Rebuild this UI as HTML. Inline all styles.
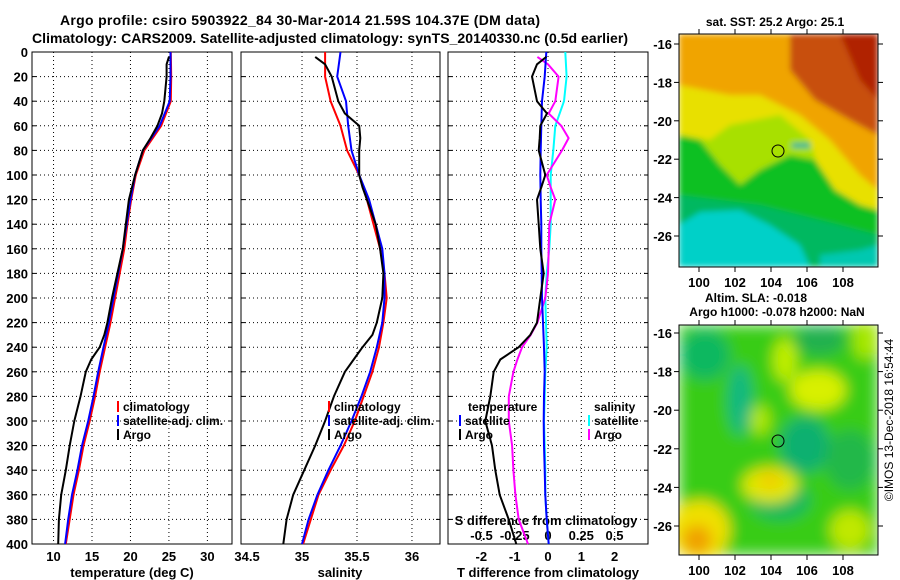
<!DOCTYPE html>
<html><head><meta charset="utf-8"><style>
body{margin:0;background:#fff;}
svg{display:block;font-family:"Liberation Sans",Arial,sans-serif;font-weight:bold;}
</style></head><body>
<svg id="c" width="900" height="580" viewBox="0 0 900 580">
<defs>
<filter id="bl" x="-5%" y="-5%" width="110%" height="110%"><feGaussianBlur stdDeviation="3"/></filter>
<filter id="bl2" x="-5%" y="-5%" width="110%" height="110%"><feGaussianBlur stdDeviation="7"/></filter>
<clipPath id="cm1"><rect x="679" y="34" width="199" height="233"/></clipPath>
<clipPath id="cm2"><rect x="679" y="325" width="199" height="230"/></clipPath>
</defs>
<text x="60" y="25" font-size="14" textLength="480">Argo profile: csiro 5903922_84 30-Mar-2014 21.59S 104.37E (DM data)</text>
<text x="32" y="43" font-size="14" textLength="596">Climatology: CARS2009. Satellite-adjusted climatology: synTS_20140330.nc (0.5d earlier)</text>

<g>
<g clip-path="url(#cm1)" filter="url(#bl)">
<rect x="679" y="34" width="199" height="233" fill="#f0a400"/>
<polygon points="790,34 878,34 878,135 850,120 815,100 790,70" fill="#c85010"/>
<polygon points="840,34 878,34 878,100 860,80" fill="#b02000"/>
<polygon points="679,85 730,95 760,95 800,115 830,140 860,175 878,190 878,267 679,267" fill="#e8e000"/>
<polygon points="679,135 710,140 730,125 780,115 810,140 820,175 790,200 730,195 679,180" fill="#a8e000"/>
<polygon points="679,135 700,140 720,165 740,185 760,170 790,155 815,160 835,190 860,205 878,210 878,267 679,267" fill="#10c020"/>
<polygon points="679,195 720,200 760,205 800,215 840,225 878,235 878,267 679,267" fill="#00b860"/>
<polygon points="679,225 700,212 740,210 770,225 800,245 810,267 679,267" fill="#00d0c8"/>
<polygon points="820,255 860,250 878,245 878,267 820,267" fill="#00c8b0"/>
<rect x="792" y="143" width="18" height="5" fill="#00b0a0"/>
</g>
<rect x="679" y="34" width="199" height="233" fill="none" stroke="#000"/>
<circle cx="778" cy="151" r="6" fill="none" stroke="#000"/>
<text x="775" y="26" font-size="12" text-anchor="middle">sat. SST: 25.2 Argo: 25.1</text>
</g>

<g>
<g clip-path="url(#cm2)" filter="url(#bl2)">
<rect x="679" y="325" width="199" height="230" fill="#38cc18"/>
<ellipse cx="705" cy="355" rx="25" ry="25" fill="#10b860"/>
<ellipse cx="740" cy="400" rx="12" ry="35" fill="#10b880"/>
<ellipse cx="805" cy="445" rx="25" ry="28" fill="#10b070"/>
<ellipse cx="780" cy="500" rx="30" ry="20" fill="#10b860"/>
<ellipse cx="820" cy="340" rx="25" ry="15" fill="#20b050"/>
<ellipse cx="850" cy="460" rx="25" ry="30" fill="#20b848"/>
<ellipse cx="785" cy="360" rx="12" ry="22" fill="#c0ee00"/>
<ellipse cx="818" cy="390" rx="28" ry="20" fill="#d8f000"/>
<ellipse cx="770" cy="485" rx="28" ry="18" fill="#e0e800"/>
<ellipse cx="770" cy="480" rx="12" ry="10" fill="#f0d000"/>
<ellipse cx="760" cy="420" rx="10" ry="15" fill="#b0e800"/>
<ellipse cx="700" cy="530" rx="30" ry="30" fill="#f0e000"/>
<ellipse cx="697" cy="540" rx="15" ry="15" fill="#f0a000"/>
<ellipse cx="850" cy="530" rx="20" ry="20" fill="#c0e800"/>
<ellipse cx="865" cy="340" rx="12" ry="20" fill="#a8e800"/>
</g>
<rect x="679" y="325" width="199" height="230" fill="none" stroke="#000"/>
<circle cx="778" cy="441" r="6" fill="none" stroke="#000"/>
<text x="756" y="302" font-size="12" text-anchor="middle">Altim. SLA: -0.018</text>
<text x="777" y="316" font-size="12" text-anchor="middle">Argo h1000: -0.078 h2000: NaN</text>
</g>
<text transform="translate(893,420) rotate(-90)" font-size="12" font-weight="normal" text-anchor="middle">©IMOS 13-Dec-2018 16:54:44</text>
<g id="dyn"></g>
</svg>
<script>
const depths = [0,20,40,60,80,100,120,140,160,180,200,220,240,260,280,300,320,340,360,380,400];
const tempClim = [25.25,25.3,25.25,24.0,21.8,20.7,20.1,19.6,19.2,18.6,18.0,17.4,16.7,16.0,15.4,14.7,13.9,13.3,12.6,12.1,11.6];
const tempSat  = [25.2,25.2,25.1,23.8,21.6,20.6,20.0,19.5,19.0,18.4,17.8,17.2,16.5,15.8,15.2,14.5,13.7,13.1,12.4,11.9,11.5];
const argoDepths = [4,10,20,40,50,60,70,80,100,110,120,140,160,180,200,220,230,240,250,260,280,300,320,340,360,380,400];
const tempArgo = [25.0,24.7,24.7,24.4,24.1,23.5,22.6,21.6,20.6,20.2,19.8,19.4,19.0,18.3,17.6,17.0,16.6,16.0,14.9,14.2,13.5,12.7,12.1,11.6,11.0,10.7,10.6];
const salClim = [35.21,35.21,35.26,35.35,35.41,35.52,35.59,35.65,35.71,35.75,35.77,35.74,35.70,35.64,35.56,35.48,35.38,35.26,35.15,35.08,35.01];
const salSat  = [35.35,35.32,35.40,35.42,35.45,35.52,35.61,35.67,35.73,35.75,35.75,35.73,35.68,35.62,35.54,35.45,35.35,35.24,35.14,35.06,35.0];
const salArgo = [35.12,35.21,35.27,35.33,35.39,35.52,35.53,35.52,35.52,35.55,35.59,35.67,35.71,35.74,35.73,35.68,35.64,35.55,35.47,35.39,35.29,35.21,35.12,35.02,34.92,34.86,34.83];
const tDiffSat = [-0.05,-0.1,-0.18,-0.2,-0.22,-0.23,-0.22,-0.2,-0.2,-0.19,-0.18,-0.15,-0.12,-0.1,-0.12,-0.13,-0.12,-0.1,-0.08,-0.04,0.02];
const tDiffArgo = [-0.05,-0.33,-0.48,-0.33,-0.03,-0.23,-0.25,-0.28,-0.08,-0.2,-0.33,-0.28,-0.23,-0.13,-0.23,-0.33,-0.53,-0.88,-1.43,-1.63,-1.73,-1.88,-1.68,-1.58,-1.45,-1.18,-0.95];
const sDiffSat = [0.13,0.14,0.12,0.055,0.04,0.02,0.02,0.02,0.01,-0.01,-0.02,-0.015,-0.01,-0.02,-0.025,-0.03,-0.025,-0.02,-0.02,-0.01,0.005];
const sDiffArgo = [-0.08,0.0,0.08,0.055,0.005,0.1,0.155,0.105,-0.01,0.02,0.055,0.01,0.005,0.0,-0.02,-0.08,-0.13,-0.195,-0.23,-0.26,-0.295,-0.295,-0.27,-0.26,-0.245,-0.22,-0.15];
const depthTicks = [0,20,40,60,80,100,120,140,160,180,200,220,240,260,280,300,320,340,360,380,400];
const tempTicks = [10,15,20,25,30];
const salTicks = ["34.5","35","35.5","36"];
const tdTicks = [-2,-1,0,1,2];
const sdTicks = ["-0.5","-0.25","0","0.25","0.5"];
const latTicks = [-16,-18,-20,-22,-24,-26];
const lonTicks = [100,102,104,106,108];

const NS='http://www.w3.org/2000/svg';
const g=document.getElementById('dyn');
function mk(tag,attrs,parent){const e=document.createElementNS(NS,tag);for(const k in attrs)e.setAttribute(k,attrs[k]);(parent||g).appendChild(e);return e;}
const Y0=52,Y1=544;
const yD=d=>Y0+(d/400)*(Y1-Y0);
const panels=[
 {x0:32,x1:232,lo:7.2,hi:33.2,name:'temperature-panel'},
 {x0:241,x1:440,lo:34.445,hi:36.255,name:'salinity-panel'},
 {x0:448,x1:648,lo:-3,hi:3,name:'difference-panel'}];
const sx=(p,v)=>p.x0+(v-p.lo)/(p.hi-p.lo)*(p.x1-p.x0);
const sdx=v=>548+v*133;

panels.forEach((p,i)=>{
  const pg=mk('g',{});
  
  
  mk('rect',{x:p.x0,y:Y0,width:p.x1-p.x0,height:Y1-Y0,fill:'#fff',stroke:'#000'},pg);
  depthTicks.forEach(d=>{ if(d>0&&d<400){
    const l=mk('line',{x1:p.x0,x2:p.x1,y1:yD(d),y2:yD(d),stroke:'#000','stroke-dasharray':'1,3'},pg);
    
    
    mk('line',{x1:p.x0,x2:p.x0+4,y1:yD(d),y2:yD(d),stroke:'#000'},pg);
    mk('line',{x1:p.x1-4,x2:p.x1,y1:yD(d),y2:yD(d),stroke:'#000'},pg);
  }});
});
depthTicks.forEach(d=>{
  const t=mk('text',{x:28,y:yD(d)+5,'font-size':13,'text-anchor':'end'});
  t.textContent=d;
  
  
});
function vgrid(p,x){ mk('line',{x1:x,x2:x,y1:Y0,y2:Y1,stroke:'#000','stroke-dasharray':'1,3'}); }
function xlabel(x,y,s){const t=mk('text',{x:x,y:y,'font-size':13,'text-anchor':'middle'});t.textContent=s;
  
  }
tempTicks.forEach(v=>{const x=sx(panels[0],v);vgrid(panels[0],x);xlabel(x,561,v);});
salTicks.forEach(v=>{const x=sx(panels[1],+v);if(+v>34.5)vgrid(panels[1],x);xlabel(x,561,v);});
tdTicks.forEach(v=>{const x=sx(panels[2],v);vgrid(panels[2],x);xlabel(x,561,v);});
sdTicks.forEach(v=>{xlabel(sdx(+v),540,v);});
[[132,'temperature (deg C)','x-axis-title-temperature'],[340,'salinity','x-axis-title-salinity'],[548,'T difference from climatology','x-axis-title-t-difference']].forEach(a=>{
 const t=mk('text',{x:a[0],y:577,'font-size':13,'text-anchor':'middle'});t.textContent=a[1];
 
 
});
{const t=mk('text',{x:546,y:525,'font-size':13,'text-anchor':'middle'});t.textContent='S difference from climatology';
 
 }

function line(ds,vs,fx,color,w,name){
  const pts=ds.map((d,i)=>fx(vs[i]).toFixed(1)+','+yD(d).toFixed(1)).join(' ');
  const pl=mk('polyline',{points:pts,fill:'none',stroke:color,'stroke-width':w,'stroke-linejoin':'round'});
  
  
}
const P0=panels[0],P1=panels[1],P2=panels[2];
line(depths,tempClim,v=>sx(P0,v),'#f00',2,'temperature-climatology-line');
line(depths,tempSat,v=>sx(P0,v),'#00f',2,'temperature-satellite-line');
line(argoDepths,tempArgo,v=>sx(P0,v),'#000',2,'temperature-argo-line');
line(depths,salClim,v=>sx(P1,v),'#f00',2,'salinity-climatology-line');
line(depths,salSat,v=>sx(P1,v),'#00f',2,'salinity-satellite-line');
line(argoDepths,salArgo,v=>sx(P1,v),'#000',2,'salinity-argo-line');
line(depths,sDiffSat,sdx,'#0ff',2,'s-diff-satellite-line');
line(argoDepths,sDiffArgo,sdx,'#f0f',2,'s-diff-argo-line');
line(depths,tDiffSat,v=>sx(P2,v),'#00f',2,'t-diff-satellite-line');
line(argoDepths,tDiffArgo,v=>sx(P2,v),'#000',2,'t-diff-argo-line');

function leg(x,y,color,label,name){
  if(color) mk('rect',{x:x,y:y-10,width:2,height:11,fill:color});
  const t=mk('text',{x:x+6,y:y,'font-size':12});t.textContent=label;
  
  
}
[[117,'temp'],[328,'sal']].forEach(a=>{
 leg(a[0],411,'#f00','climatology','legend-'+a[1]+'-climatology');
 leg(a[0],425,'#00f','satellite-adj. clim.','legend-'+a[1]+'-satellite');
 leg(a[0],439,'#000','Argo','legend-'+a[1]+'-argo');
});
leg(462,411,null,'temperature','legend-diff-temperature-heading');
leg(459,425,'#00f','satellite','legend-diff-t-satellite');
leg(459,439,'#000','Argo','legend-diff-t-argo');
leg(588,411,null,'salinity','legend-diff-salinity-heading');
leg(588,425,'#0ff','satellite','legend-diff-s-satellite');
leg(588,439,'#f0f','Argo','legend-diff-s-argo');

const maps=[{x0:679,x1:878,y0:34,y1:267,lat16:44,lat26:236,name:'sst'},{x0:679,x1:878,y0:325,y1:555,lat16:333,lat26:526,name:'sla'}];
maps.forEach(m=>{
  latTicks.forEach(v=>{
    const y=m.lat16+(-16-v)/10*(m.lat26-m.lat16);
    mk('line',{x1:m.x0-5,x2:m.x0,y1:y,y2:y,stroke:'#000'});
    mk('line',{x1:m.x1,x2:m.x1+5,y1:y,y2:y,stroke:'#000'});
    const t=mk('text',{x:m.x0-7,y:y+5,'font-size':13,'text-anchor':'end'});t.textContent=v;
    
    
  });
  lonTicks.forEach(v=>{
    const x=699+(v-100)*18;
    mk('line',{x1:x,x2:x,y1:m.y1,y2:m.y1+5,stroke:'#000'});
    mk('line',{x1:x,x2:x,y1:m.y0-5,y2:m.y0,stroke:'#000'});
    const t=mk('text',{x:x,y:m.y1+20,'font-size':13,'text-anchor':'middle'});t.textContent=v;
    
    
  });
});
</script>
</body></html>
